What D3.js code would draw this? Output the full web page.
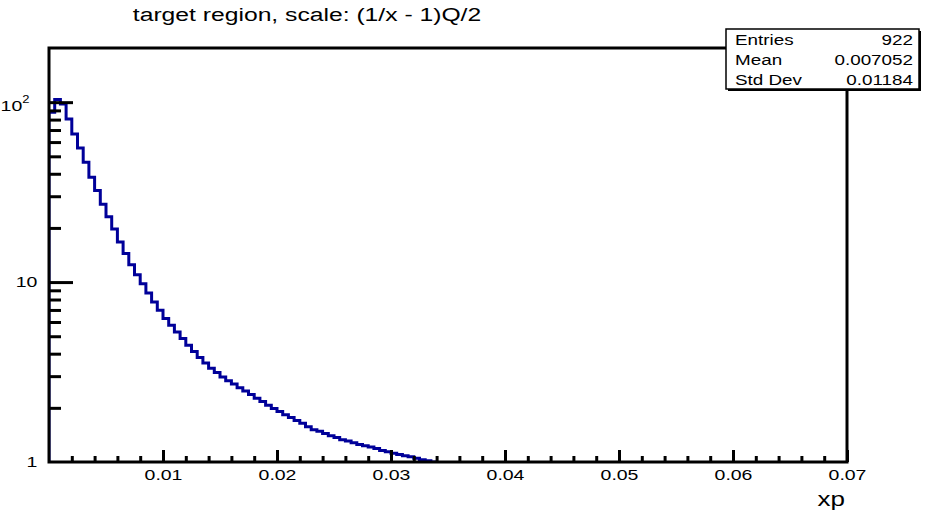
<!DOCTYPE html>
<html>
<head>
<meta charset="utf-8">
<script src="https://cdn.jsdelivr.net/npm/d3@7"></script>
<style>
  html, body { margin: 0; padding: 0; background: #fff; }
  svg { display: block; }
  text { font-family: "Liberation Sans", Arial, Helvetica, sans-serif; fill: #000; }
</style>
</head>
<body>
<svg id="chart" width="926" height="517"></svg>
<script>
// ---------------- data ----------------
const titleText = "target region, scale: (1/x - 1)Q/2";
const xAxisLabel = "xp";
const binLow = 0;
const binWidth = 0.0005;
const binValues = [
  88, 103.5, 97.6, 80.6, 66.5, 55.7, 46.3, 38.2, 32.3, 27.1,
  23.1, 19.7, 16.7, 14.4, 12.5, 11.0, 9.8, 8.7, 7.75, 6.97,
  6.27, 5.75, 5.28, 4.85, 4.46, 4.11, 3.81, 3.55, 3.32, 3.14,
  2.97, 2.83, 2.71, 2.59, 2.48, 2.37, 2.26, 2.17, 2.07, 1.98,
  1.91, 1.83, 1.77, 1.70, 1.64, 1.57, 1.51, 1.48, 1.44, 1.40,
  1.37, 1.33, 1.31, 1.28, 1.25, 1.23, 1.21, 1.19, 1.16, 1.14,
  1.12, 1.10, 1.085, 1.07, 1.05, 1.03, 1.017, 1.0, 0.98
];
const xDomain = [0, 0.07];
const yDomain = [1, 200];
const xMajorTicks = [0.01, 0.02, 0.03, 0.04, 0.05, 0.06, 0.07];
const xMinorTicks = d3.range(1, 35).map(i => i * 0.002).filter(v => Math.abs(v * 100 - Math.round(v * 100)) > 1e-6);
const yMajorTicks = [1, 10, 100];
const yMinorTicks = [2, 3, 4, 5, 6, 7, 8, 9, 20, 30, 40, 50, 60, 70, 80, 90];
const statsLabels = ["Entries", "Mean", "Std Dev"];
const statsValues = ["922", "0.007052", "0.01184"];

// ---------------- layout ----------------
const frame = { left: 49, top: 48, right: 847, bottom: 462 };
const SX = 1.3; // horizontal stretch of the original canvas text

const svg = d3.select("#chart");
const x = d3.scaleLinear().domain(xDomain).range([frame.left, frame.right]);
const y = d3.scaleLog().domain(yDomain).range([frame.bottom, frame.top]);

// clip
svg.append("defs").append("clipPath").attr("id", "clip")
  .append("rect")
  .attr("x", frame.left).attr("y", frame.top)
  .attr("width", frame.right - frame.left).attr("height", frame.bottom - frame.top);

// histogram step outline
const pts = [[binLow, yDomain[0]]];
binValues.forEach((v, i) => {
  const x0 = binLow + i * binWidth, x1 = x0 + binWidth;
  pts.push([x0, v]); pts.push([x1, v]);
});
const line = d3.line().x(d => x(d[0])).y(d => y(Math.max(d[1], 0.5)));
svg.append("path")
  .attr("clip-path", "url(#clip)")
  .attr("d", line(pts))
  .attr("fill", "none")
  .attr("stroke", "#000099")
  .attr("stroke-width", 3)
  .attr("stroke-linejoin", "miter");

// x axis major
const gxMaj = svg.append("g").attr("transform", `translate(0,${frame.bottom})`)
  .call(d3.axisBottom(x).tickValues(xMajorTicks).tickSize(-12).tickPadding(7)
        .tickFormat(d3.format(".2f")));
gxMaj.select(".domain").remove();
gxMaj.selectAll(".tick line").attr("stroke", "#000").attr("stroke-width", 3);
gxMaj.selectAll(".tick text")
  .attr("font-size", 15).attr("font-family", null)
  .attr("transform", `scale(${SX},1)`);

// x axis minor
const gxMin = svg.append("g").attr("transform", `translate(0,${frame.bottom})`)
  .call(d3.axisBottom(x).tickValues(xMinorTicks).tickSize(-6).tickFormat(""));
gxMin.select(".domain").remove();
gxMin.selectAll(".tick line").attr("stroke", "#000").attr("stroke-width", 3);

// y axis major
const gyMaj = svg.append("g").attr("transform", `translate(${frame.left},0)`)
  .call(d3.axisLeft(y).tickValues(yMajorTicks).tickSize(-24).tickPadding(9)
        .tickFormat(d => d === 100 ? "10" : String(d)));
gyMaj.select(".domain").remove();
gyMaj.selectAll(".tick line").attr("stroke", "#000").attr("stroke-width", 3);
gyMaj.selectAll(".tick text")
  .attr("font-size", 15).attr("font-family", null)
  .attr("transform", `scale(${SX},1)`)
  .each(function(d) {
    if (d === 100) {
      const t = d3.select(this);
      t.attr("x", -15).attr("dy", "0.55em");
      t.append("tspan").attr("font-size", 10).attr("dy", "-0.75em").text("2");
    }
  });
gyMaj.selectAll(".tick").filter(d => d === 1).select("line").remove();

// y axis minor
const gyMin = svg.append("g").attr("transform", `translate(${frame.left},0)`)
  .call(d3.axisLeft(y).tickValues(yMinorTicks).tickSize(-12).tickFormat(""));
gyMin.select(".domain").remove();
gyMin.selectAll(".tick line").attr("stroke", "#000").attr("stroke-width", 3);

// frame
svg.append("rect")
  .attr("x", frame.left).attr("y", frame.top)
  .attr("width", frame.right - frame.left).attr("height", frame.bottom - frame.top)
  .attr("fill", "none").attr("stroke", "#000").attr("stroke-width", 3);

// title
svg.append("text")
  .attr("transform", `translate(307,21) scale(${SX},1)`)
  .attr("text-anchor", "middle")
  .attr("font-size", 19)
  .text(titleText);

// x axis label
svg.append("text")
  .attr("transform", `translate(845,506) scale(${SX},1)`)
  .attr("text-anchor", "end")
  .attr("font-size", 20)
  .text(xAxisLabel);

// stats box
const box = { x: 726, y: 29, w: 193, h: 60 };
svg.append("rect")
  .attr("x", box.x + 2).attr("y", box.y + 2).attr("width", box.w).attr("height", box.h)
  .attr("fill", "#000");
svg.append("rect")
  .attr("x", box.x).attr("y", box.y).attr("width", box.w).attr("height", box.h)
  .attr("fill", "#fff").attr("stroke", "#000").attr("stroke-width", 1.5);
const rowY = d3.scalePoint().domain(statsLabels).range([45, 85]);
statsLabels.forEach((lab, i) => {
  svg.append("text")
    .attr("transform", `translate(${box.x + 9},${rowY(lab)}) scale(${SX},1)`)
    .attr("font-size", 14.5)
    .text(lab);
  svg.append("text")
    .attr("transform", `translate(${box.x + box.w - 6},${rowY(lab)}) scale(${SX},1)`)
    .attr("text-anchor", "end")
    .attr("font-size", 14.5)
    .text(statsValues[i]);
});
</script>
</body>
</html>
